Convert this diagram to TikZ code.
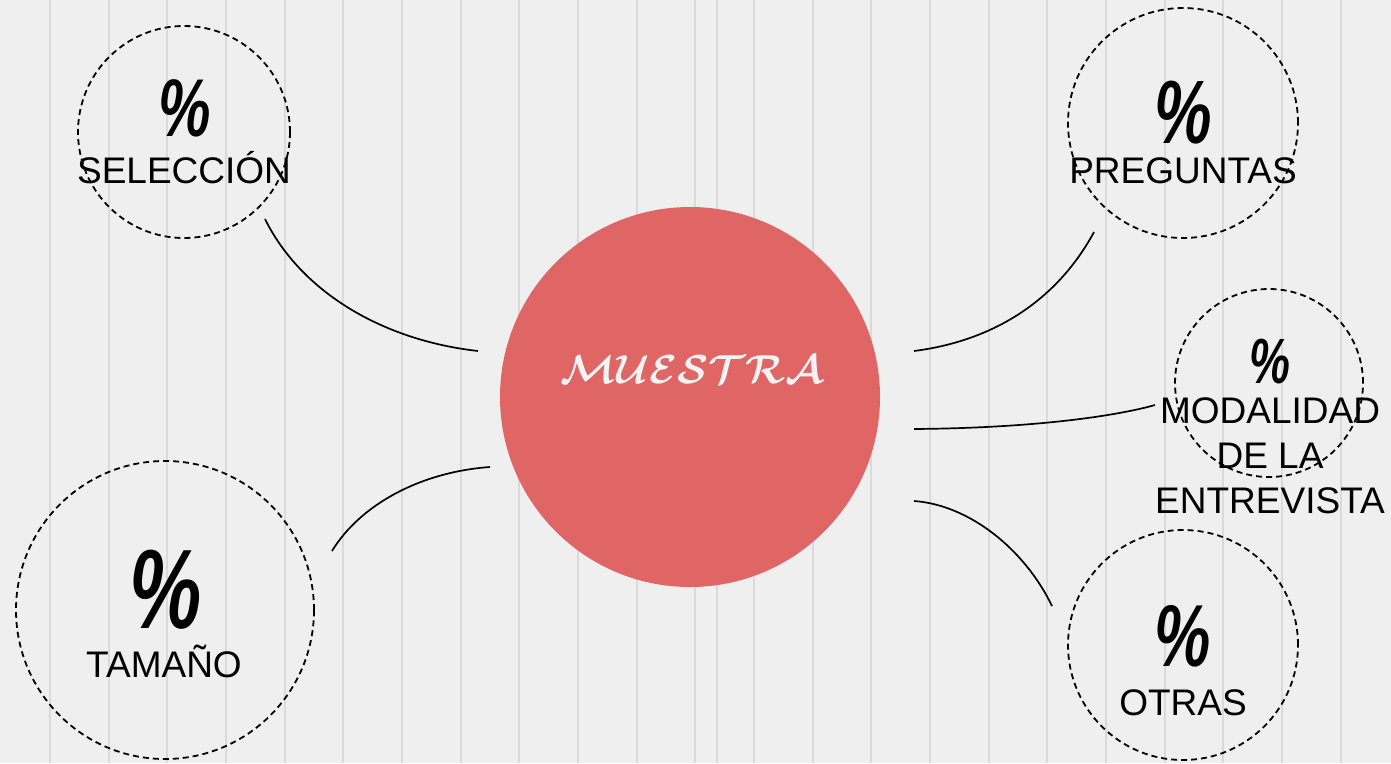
\documentclass[tikz,border=0pt]{standalone}
\usepackage{fontspec}
\setmainfont{Liberation Sans}
\usepackage{tikz}
\usetikzlibrary{positioning, calc}
\definecolor{paper}{HTML}{EFEFEF}
\definecolor{rule}{HTML}{DADADA}
\definecolor{coral}{HTML}{E06666}
\definecolor{chalk}{HTML}{F3F3F3}
\newcommand{\pcsign}{\scalebox{0.72}[1]{\%}}
\tikzset{
    base/.style={inner sep=0pt, align=center},
    ring/.style={base, circle, draw=black, line width=1.8pt, dash pattern=on 6pt off 4pt},
    hub/.style={base, circle, fill=coral, minimum size=380pt},
    label/.style={base, font=\fontsize{37}{45}\selectfont},
    pct/.style={base, font=\fontsize{#1}{#1}\selectfont\bfseries\itshape},
    link/.style={draw=black, line width=1.7pt},
    gridline/.style={draw=rule, line width=2pt}
}

\begin{document}
\begin{tikzpicture}[x=1pt, y=-1pt]
    \useasboundingbox (0,0) rectangle (1391,763);
    \fill [paper] (0,0) rectangle (1391,763);
    \foreach \i in {0,...,22} \draw [gridline] ({50+58.67*\i},0) -- ++(0,763);
    \draw [gridline] (717,0) -- ++(0,763);

    % centre
    \node [hub] (Muestra) at (690,397) {};
    \node [base, text=chalk, font=\boldmath] (MuestraTxt) at (692,370) {\scalebox{4.05}{$\mathcal{MUESTRA}$}};

    % satellites
    \node [ring, minimum size=212pt] (Seleccion) at (184,132) {};
    \node [pct=82] (SelPct) at (185,108) {\pcsign};
    \node [label] (SelTxt) at (184,168) {SELECCIÓN};

    \node [ring, minimum size=230pt] (Preguntas) at (1183,123) {};
    \node [pct=90] (PrePct) at (1183,113) {\pcsign};
    \node [label] (PreTxt) at (1183,171) {PREGUNTAS};

    \node [ring, minimum size=188pt] (Modalidad) at (1269,383) {};
    \node [pct=64] (ModPct) at (1270,362) {\pcsign};
    \node [label] (ModTxt) at (1270,456) {MODALIDAD\\DE LA\\ENTREVISTA};

    \node [ring, minimum size=298pt] (Tamano) at (165,610) {};
    \node [pct=113] (TamPct) at (166,590) {\pcsign};
    \node [label] (TamTxt) at (164,661) {TAMAÑO};

    \node [ring, minimum size=230pt] (Otras) at (1183,645) {};
    \node [pct=88] (OtrPct) at (1183,636) {\pcsign};
    \node [label] (OtrTxt) at (1183,703) {OTRAS};

    % connector ends
    \coordinate (selA) at (478,351);
    \coordinate (selB) at (265,219);
    \coordinate (preA) at (914,351);
    \coordinate (preB) at (1094,232);
    \coordinate (modA) at (914,429);
    \coordinate (modB) at (1155,405);
    \coordinate (otrA) at (914,501);
    \coordinate (otrB) at (1052,606);
    \coordinate (tamA) at (490,467);
    \coordinate (tamB) at (332,551);

    \path [link] (selA) .. controls (380,340) and (300,290) .. (selB);
    \path [link] (preA) .. controls (1000,340) and (1060,295) .. (preB);
    \path [link] (modA) .. controls (1040,428) and (1120,415) .. (modB);
    \path [link] (otrA) .. controls (970,505) and (1025,550) .. (otrB);
    \path [link] (tamA) .. controls (420,472) and (360,505) .. (tamB);
\end{tikzpicture}
\end{document}
